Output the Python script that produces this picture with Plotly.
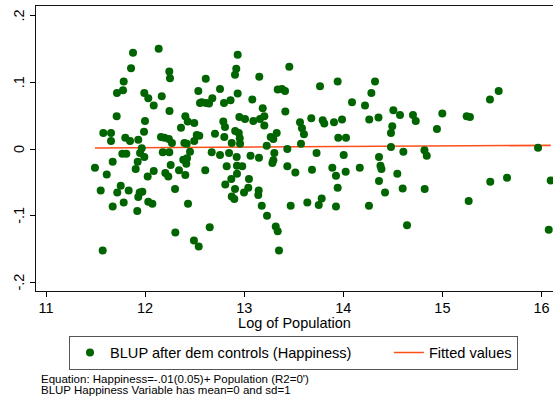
import plotly.graph_objects as go

# Log of population (x) and BLUP of happiness after demographic controls (y)
log_pop = [
    11.494, 11.572, 11.552, 11.578, 11.613, 11.656, 11.656, 11.673, 11.673, 11.713,
    11.716, 11.719, 11.754, 11.784, 11.777, 11.784, 11.770, 11.810, 11.800, 11.834,
    11.848, 11.858, 11.878, 11.905, 11.921, 11.931, 11.931, 11.925, 11.945, 11.972,
    11.949, 11.966, 11.992, 11.989, 11.999, 11.992, 12.032, 12.026, 12.032, 12.073,
    12.087, 12.087, 12.137, 12.160, 12.195, 12.240, 12.168, 12.178, 12.244, 12.244,
    12.251, 12.246, 12.258, 12.204, 12.234, 12.271, 12.302, 12.305, 12.342, 12.362,
    12.385, 12.406, 12.406, 12.423, 12.416, 12.430, 12.396, 12.420, 12.433, 12.453,
    12.496, 12.521, 12.547, 12.496, 12.493, 12.541, 12.537, 12.612, 12.554, 12.571,
    12.615, 12.645, 12.678, 12.607, 12.652, 12.672, 12.705, 12.756, 12.756, 12.789,
    12.806, 12.796, 12.799, 12.809, 12.823, 12.847, 12.862, 12.874, 12.870, 12.874,
    12.900, 12.907, 12.909, 12.945, 12.955, 12.958, 12.924, 12.927, 12.927, 12.934,
    12.920, 12.907, 12.934, 12.951, 13.008, 12.980, 12.998, 13.041, 13.048, 13.064,
    13.082, 13.092, 13.146, 13.142, 13.149, 13.152, 13.159, 13.177, 13.187, 13.203,
    13.203, 13.227, 13.230, 13.267, 13.294, 13.328, 13.284, 13.294, 13.304, 13.318,
    13.338, 13.351, 13.338, 13.381, 13.412, 13.415, 13.435, 13.435, 13.455, 13.469,
    13.516, 13.563, 13.583, 13.603, 13.573, 13.637, 13.677, 13.684, 13.730, 13.752,
    13.782, 13.765, 13.792, 13.808, 13.889, 13.906, 13.926, 13.943, 13.926, 13.943,
    13.949, 13.987, 14.004, 14.024, 14.027, 14.088, 14.166, 14.219, 14.259, 14.262,
    14.283, 14.320, 14.355, 14.360, 14.360, 14.375, 14.385, 14.421, 14.481, 14.481,
    14.494, 14.505, 14.545, 14.572, 14.599, 14.606, 14.643, 14.703, 14.731, 14.819,
    14.842, 14.821, 14.945, 14.999, 15.245, 15.278, 15.265, 15.480, 15.483, 15.568,
    15.652, 15.965, 16.093, 16.073,
]
blup_happiness = [
    -0.028, -0.152, -0.062, 0.024, -0.038, 0.024, 0.012, -0.019, -0.086, 0.049,
    0.084, -0.065, -0.055, 0.101, 0.088, -0.080, -0.007, -0.007, 0.017, -0.062,
    0.012, 0.121, 0.144, -0.030, -0.093, 0.014, -0.072, -0.019, -0.065, -0.064,
    -0.006, 0.001, -0.012, 0.026, 0.042, 0.084, 0.076, -0.041, -0.079, -0.082,
    0.065, -0.033, 0.150, 0.018, 0.017, 0.015, 0.079, -0.005, -0.005, 0.116,
    0.106, 0.057, -0.024, -0.036, -0.041, 0.009, -0.060, -0.125, -0.032, 0.032,
    -0.016, 0.049, -0.039, -0.014, -0.022, 0.041, 0.009, 0.008, -0.082, -0.004,
    0.039, 0.021, 0.020, 0.012, -0.137, -0.146, 0.087, 0.105, 0.069, 0.070,
    0.069, 0.068, 0.076, -0.032, -0.117, -0.005, 0.023, 0.090, -0.009, 0.041,
    0.033, 0.069, 0.018, -0.053, -0.026, -0.006, 0.073, 0.009, -0.045, -0.071,
    -0.075, -0.060, 0.027, 0.024, 0.016, 0.008, -0.012, -0.025, -0.037, 0.141,
    0.120, 0.111, 0.083, 0.048, 0.045, -0.026, -0.065, -0.058, -0.045, -0.010,
    0.074, 0.042, -0.062, -0.069, -0.013, 0.108, 0.045, -0.085, 0.061, 0.049,
    0.035, 0.005, -0.100, 0.018, 0.015, 0.024, -0.021, -0.017, -0.006, -0.116,
    -0.123, -0.152, 0.089, 0.090, 0.087, 0.056, 0.000, -0.026, 0.123, -0.085,
    -0.035, 0.040, 0.031, 0.022, 0.008, -0.080, 0.046, -0.031, -0.006, -0.084,
    -0.074, 0.094, 0.043, 0.038, -0.028, 0.040, -0.040, -0.058, -0.086, 0.101,
    0.017, 0.044, -0.009, -0.034, 0.017, 0.070, -0.028, 0.065, -0.085, 0.044,
    0.084, 0.101, 0.047, -0.012, -0.048, -0.025, -0.030, -0.065, 0.003, 0.024,
    0.034, 0.058, -0.037, 0.051, -0.059, -0.004, -0.114, 0.051, 0.042, -0.002,
    -0.010, -0.060, 0.030, 0.053, 0.049, 0.048, -0.078, 0.074, -0.049, 0.087,
    -0.043, 0.002, -0.047, -0.121,
]

# Fitted values of the linear fit at the ends of the data range
fit_x = [11.494, 16.093]
fit_y = [0.0015, 0.0055]

x_ticks = [11, 12, 13, 14, 15, 16]
y_ticks = [-0.2, -0.1, 0, 0.1, 0.2]
y_tick_text = ["-.2", "-.1", "0", ".1", ".2"]

scatter_name = "BLUP after dem controls (Happiness)"
fit_name = "Fitted values"

notes = [
    "Equation: Happiness=-.01(0.05)+ Population (R2=0')",
    "BLUP Happiness Variable has mean=0 and sd=1",
]

FONT = "Arial, Liberation Sans, sans-serif"

fig = go.Figure()

fig.add_trace(go.Scatter(
    x=fit_x, y=fit_y, mode="lines",
    name=fit_name,
    line=dict(color="#ff4f19", width=1.6),
    legendrank=2,
))
fig.add_trace(go.Scatter(
    x=log_pop, y=blup_happiness, mode="markers",
    # non-breaking spaces widen the gap before the second legend entry
    name=scatter_name + "\u00a0" * 8,
    marker=dict(color="#006400", size=8, line=dict(width=0)),
    legendrank=1,
))

W, H = 553, 402
ML, MR, MT, MB = 36, 0, 6, 111
plot_h = H - MT - MB
plot_w = W - ML - MR


def py(pix):
    """Paper y coordinate for a pixel row of the page."""
    return (H - MB - pix) / plot_h


def px(pix):
    """Paper x coordinate for a pixel column of the page."""
    return (pix - ML) / plot_w


# vertical y tick labels, placed on the y scale
for val, txt in zip(y_ticks, y_tick_text):
    fig.add_annotation(
        text=txt, xref="paper", yref="y",
        x=px(19), y=val, textangle=-90,
        xanchor="center", yanchor="middle", showarrow=False,
        font=dict(family=FONT, size=14.5, color="#000"),
    )

for i, txt in enumerate(notes):
    fig.add_annotation(
        text=txt, xref="paper", yref="paper",
        x=px(39), y=py(379 + 11 * i),
        xanchor="left", yanchor="middle", showarrow=False,
        font=dict(family=FONT, size=11.5, color="#000"),
    )

fig.update_layout(
    width=W, height=H,
    margin=dict(l=ML, r=MR, t=MT, b=MB),
    paper_bgcolor="white", plot_bgcolor="white",
    font=dict(family=FONT, color="#000", size=14),
    showlegend=True,
    legend=dict(
        orientation="h",
        x=px(69), xanchor="left",
        y=py(352.5), yanchor="middle",
        bordercolor="#555", borderwidth=1, bgcolor="white",
        font=dict(family=FONT, size=14.6, color="#000"),
        itemwidth=30,
    ),
    xaxis=dict(
        range=[10.899, 16.116],
        tickvals=x_ticks, ticktext=[str(t) for t in x_ticks],
        ticks="outside", ticklen=5, tickwidth=1, tickcolor="#000",
        showgrid=False, zeroline=False,
        showline=True, linecolor="#111", linewidth=1.2, mirror=True,
        ticklabelstandoff=-2,
        tickfont=dict(family=FONT, size=14.5),
        title=dict(text="Log of Population", standoff=0,
                   font=dict(family=FONT, size=14.5)),
        automargin=False,
    ),
    yaxis=dict(
        range=[-0.2126, 0.2141],
        tickvals=y_ticks, showticklabels=False,
        ticks="outside", ticklen=5, tickwidth=1, tickcolor="#000",
        showgrid=False, zeroline=False,
        showline=True, linecolor="#111", linewidth=1.2, mirror=False,
        automargin=False,
    ),
)

fig.write_html("out.html")
